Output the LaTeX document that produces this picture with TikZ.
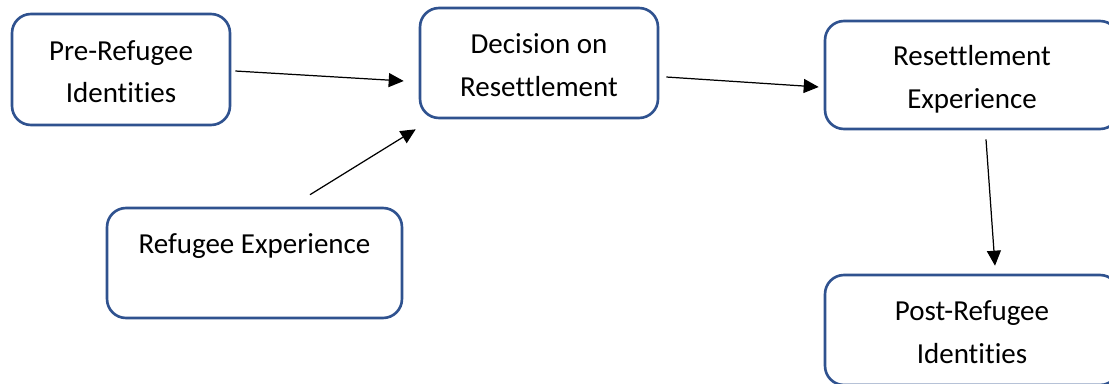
\documentclass[tikz,border=0pt]{standalone}
\usepackage{fontspec}
\setmainfont{Carlito}[RawFeature={-liga;-clig;-calt;-dlig}]
\usetikzlibrary{calc,arrows.meta}

\definecolor{boxblue}{HTML}{2F528F}
\newcommand{\bstrut}{\rule[-3.4pt]{0pt}{20.2pt}}
\tikzset{
	stage/.style={draw=boxblue, line width=1.5pt, rounded corners=0.38cm, align=center,
		font=\fontsize{16.5}{24.2}\selectfont, inner sep=0pt},
	flow/.style={line width=0.7pt, -{Triangle[length=0.3cm, width=0.28cm]}}
}

\begin{document}
\begin{tikzpicture}[x=0.02cm, y=-0.02cm]
		%%%%% START %%%%%
		\useasboundingbox (0, 0) rectangle (1109, 383);
		
		\node[stage, minimum width=4.36cm, minimum height=2.22cm] (pre) at (121, 69.5) {\bstrut Pre-Refugee\\Identities\bstrut};
		\node[stage, minimum width=4.76cm, minimum height=2.2cm] (dec) at (539, 63) {\bstrut Decision on\\Resettlement\bstrut};
		\node[stage, minimum width=5.88cm, minimum height=2.16cm] (res) at (972, 75) {\bstrut Resettlement\\Experience\bstrut};
		\node[stage, minimum width=5.9cm, minimum height=2.2cm] (refexp) at (254.5, 263) {\bstrut Refugee Experience\\\bstrut};
		\node[stage, minimum width=5.88cm, minimum height=2.2cm] (post) at (972, 330) {\bstrut Post-Refugee\\Identities\bstrut};
		
		\draw[flow] ($(pre.east)+(4, 1.5)$) -- ($(dec.west)+(-15, 18)$);
		\draw[flow] ($(refexp.north)+(55.5, -12)$) -- ($(dec.south west)+(-3, 10)$);
		\draw[flow] ($(dec.east)+(7, 14)$) -- ($(res.west)+(-5, 12)$);
		\draw[flow] ($(res.south)+(14, 9)$) -- ($(post.north)+(23, -8)$);
		%%%%% END %%%%%
\end{tikzpicture}
\end{document}
